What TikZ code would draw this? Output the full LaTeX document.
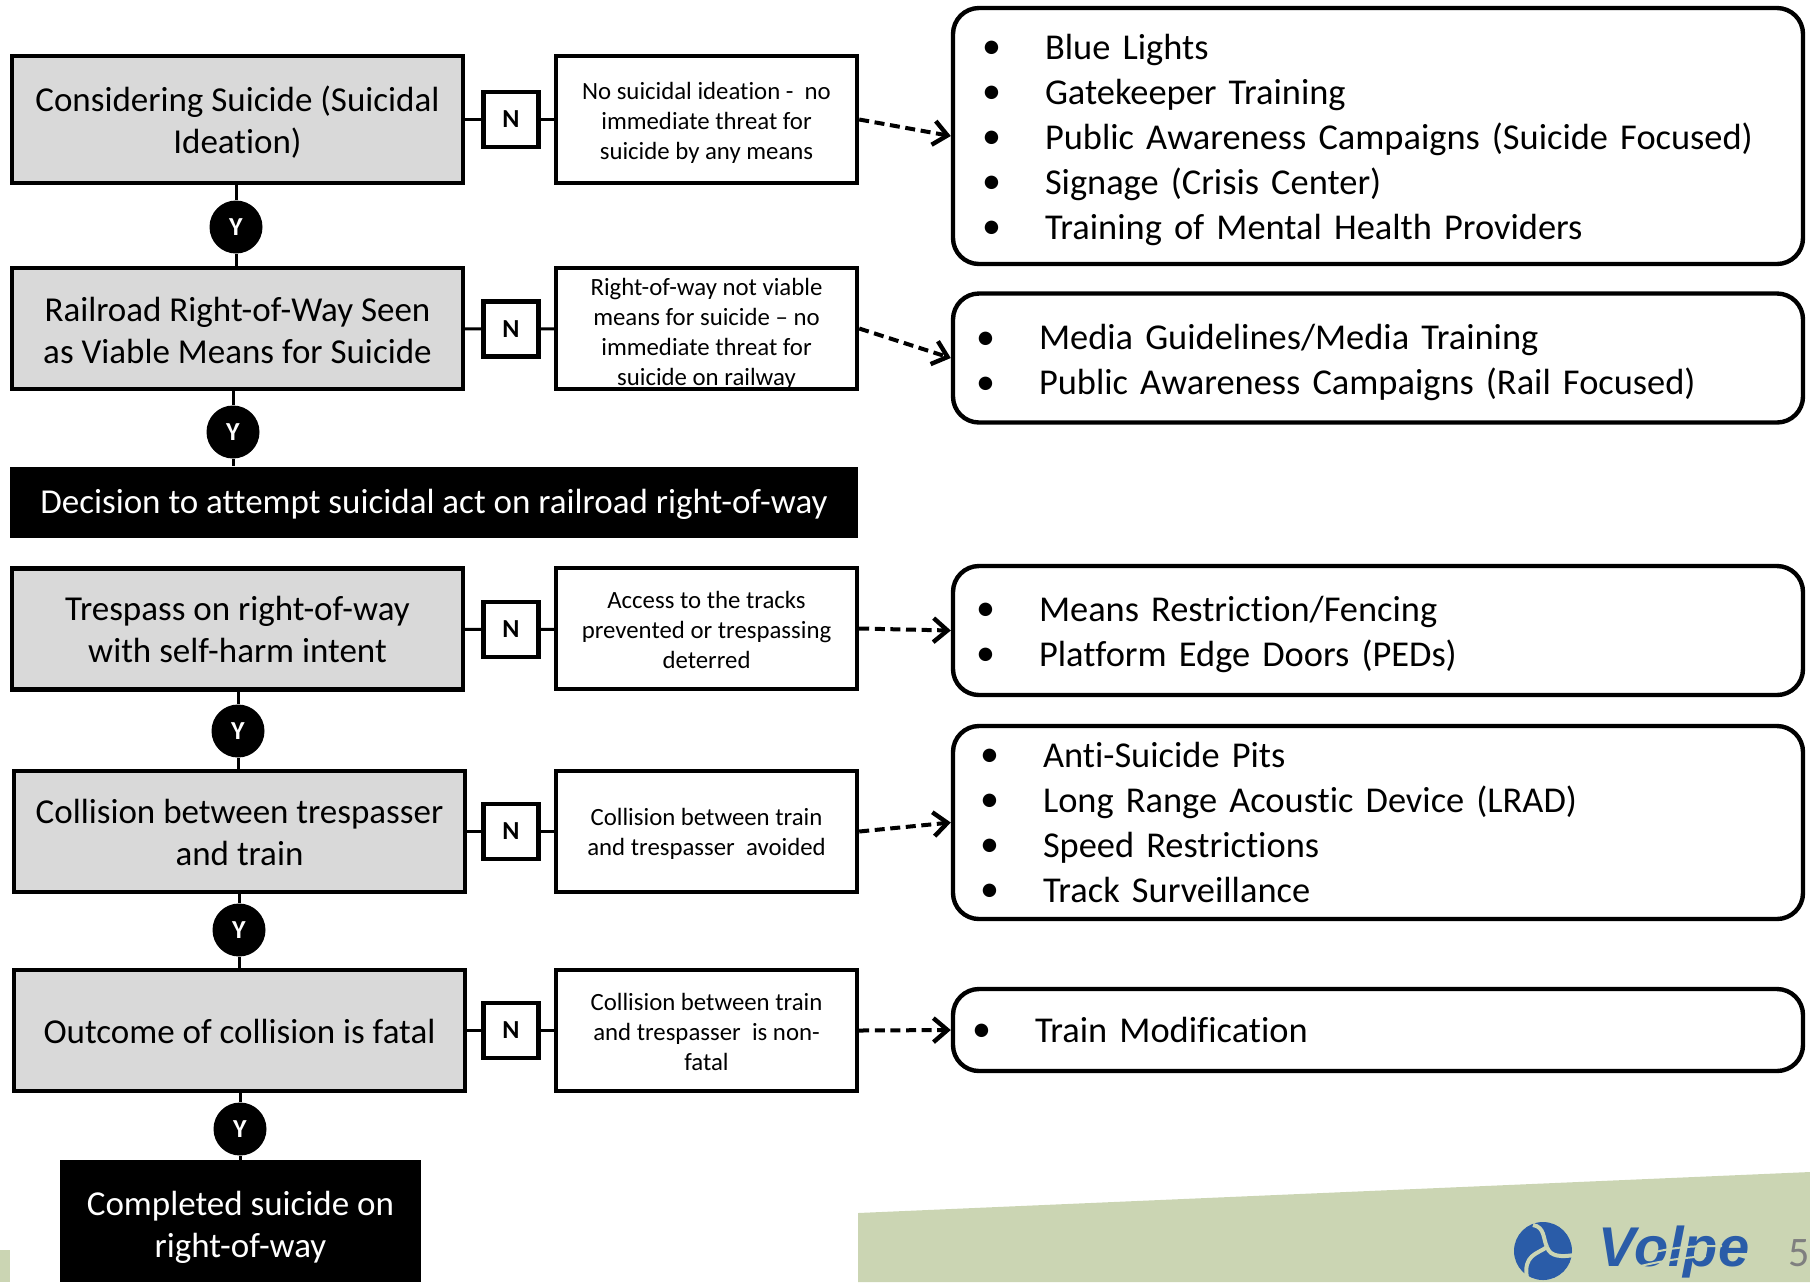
\documentclass[tikz,border=0pt]{standalone}
\usepackage{fontspec}
\setmainfont[Ligatures=NoCommon]{Carlito}
\newfontfamily\logofont{Liberation Sans}
\usetikzlibrary{arrows.meta}
\definecolor{boxgray}{HTML}{D9D9D9}
\definecolor{bandgreen}{HTML}{CBD5B3}
\definecolor{logoblue}{HTML}{2A5CA8}
\definecolor{pagegray}{HTML}{7F7F7F}
\newcommand{\listrow}[1]{\makebox[23pt][l]{\hspace*{-8.5pt}\raisebox{0.3pt}{\fontsize{19}{19}\selectfont\textbullet}}#1\\}
\begin{document}
\begin{tikzpicture}[x=0.5pt,y=-0.5pt]
     \tikzstyle{droptext}=[execute at begin node={\rule{0pt}{#1}}]
     \tikzstyle{stagenode}=[draw,line width=2.2pt,fill=boxgray,inner sep=0pt,minimum width=225.5pt,minimum height=60.5pt,text width=220pt,align=flush center,font=\fontsize{17.5}{21}\selectfont]
     \tikzstyle{blacknode}=[fill=black,text=white,inner sep=0pt,align=flush center,font=\fontsize{17.5}{21}\selectfont]
     \tikzstyle{nnode}=[draw,line width=2.2pt,fill=white,inner sep=0pt,minimum size=27.5pt,font=\fontsize{13}{13}\selectfont\bfseries]
     \tikzstyle{ynode}=[circle,fill=black,text=white,inner sep=0pt,minimum size=26.5pt,font=\fontsize{13}{13}\selectfont\bfseries]
     \tikzstyle{resultnode}=[draw,line width=2.2pt,fill=white,inner sep=0pt,minimum width=150.5pt,minimum height=60.5pt,text width=148pt,align=flush center,font=\fontsize{12.4}{15}\selectfont]
     \tikzstyle{listnode}=[draw,line width=2.2pt,rounded corners=13pt,fill=white,inner ysep=0pt,inner xsep=#1,text width=425pt-2*#1,align=left,font=\fontsize{18.2}{22.5}\selectfont]
     \tikzstyle{link}=[line width=1.5pt]
     \tikzstyle{dashlink}=[line width=2pt,dash pattern=on 5pt off 2.8pt,-{Straight Barb[length=7pt,width=12pt,line width=2.2pt]}]
     \useasboundingbox (0,0) rectangle (1810,1282);
     % bottom band and logo
     \fill[bandgreen] (858,1213) -- (1810,1172) -- (1810,1282) -- (858,1282) -- cycle;
     \fill[bandgreen] (0,1250) rectangle (10,1282);
     \fill[logoblue] (1543,1251) circle (29);
     \draw[bandgreen,line width=2pt] (1533,1225) .. controls (1545,1227) and (1543,1239) .. (1547,1247);
     \draw[bandgreen,line width=2pt] (1547,1247) .. controls (1550,1257) and (1562,1257) .. (1574,1255);
     \draw[bandgreen,line width=2pt] (1547,1247) .. controls (1537,1254) and (1523,1255) .. (1527,1278);
     \node[text=logoblue,inner sep=0pt,font=\fontsize{28}{28}\logofont\bfseries\itshape] (volpe) at (1674,1252) {Volpe};
     \draw[bandgreen,line width=1pt] (1655,1252) .. controls (1680,1246) and (1700,1246) .. (1722,1246);
     \draw[bandgreen,line width=1pt] (1620,1272) .. controls (1650,1262) and (1680,1258) .. (1706,1256);
     \node[text=pagegray,inner sep=0pt,font=\fontsize{21}{21}\selectfont] (pagenum) at (1799,1253) {5};
     % stages
     \node[stagenode,droptext=15.1pt,minimum height=63.5pt] (consider) at (237.5,119.5) {Considering Suicide (Suicidal\\Ideation)};
     \node[stagenode,droptext=14.6pt] (viable) at (237.5,328.5) {Railroad Right-of-Way Seen\\as Viable Means for Suicide};
     \node[blacknode,droptext=14.2pt,text width=420pt,minimum width=424pt,minimum height=35.5pt] (decision) at (434,502) {Decision to attempt suicidal act on railroad right-of-way};
     \node[stagenode] (trespass) at (237.5,629) {Trespass on right-of-way\\with self-harm intent};
     \node[stagenode,droptext=13.5pt] (collision) at (239.5,831.5) {Collision between trespasser\\and train};
     \node[stagenode,droptext=13.5pt] (outcome) at (239.5,1030.5) {Outcome of collision is fatal};
     \node[blacknode,droptext=18.1pt,text width=175pt,minimum width=180.5pt,minimum height=61pt] (completed) at (240.5,1221) {Completed suicide on\\right-of-way};
     % yes circles
     \node[ynode] (yconsider) at (236,227) {Y};
     \node[ynode] (yviable) at (233,432) {Y};
     \node[ynode] (ytrespass) at (238,731) {Y};
     \node[ynode] (ycollision) at (239,930) {Y};
     \node[ynode] (youtcome) at (240,1129) {Y};
     % no boxes
     \node[nnode] (nconsider) at (511,119.5) {N};
     \node[nnode] (nviable) at (511,329) {N};
     \node[nnode] (ntrespass) at (511,629.5) {N};
     \node[nnode] (ncollision) at (511,831.5) {N};
     \node[nnode] (noutcome) at (511,1030.5) {N};
     % results
     \node[resultnode,droptext=12.4pt,minimum height=63.5pt] (rconsider) at (706.5,119.5) {No suicidal ideation -\ \ no\\immediate threat for\\suicide by any means};
     \node[resultnode,droptext=13.5pt] (rviable) at (706.5,328.5) {Right-of-way not viable\\means for suicide -- no\\immediate threat for\\suicide on railway};
     \node[resultnode,droptext=10pt] (rtrespass) at (706.5,628.5) {Access to the tracks\\prevented or trespassing\\deterred};
     \node[resultnode,droptext=11.2pt] (rcollision) at (706.5,831.5) {Collision between train\\and trespasser\ \ avoided};
     \node[resultnode,droptext=10pt] (routcome) at (706.5,1030.5) {Collision between train\\and trespasser\ \ is non-\\fatal};
     % lists
     \node[listnode=23pt,droptext=16.3pt,minimum height=128pt] (lconsider) at (1378,136) {\listrow{Blue Lights}\listrow{Gatekeeper Training}\listrow{Public Awareness Campaigns (Suicide Focused)}\listrow{Signage (Crisis Center)}\listrow{Training of Mental Health Providers}};
     \node[listnode=20pt,droptext=17.4pt,minimum height=64.5pt] (lviable) at (1378,358) {\listrow{Media Guidelines/Media Training}\listrow{Public Awareness Campaigns (Rail Focused)}};
     \node[listnode=20pt,droptext=16.3pt,minimum height=64.5pt] (ltrespass) at (1378,630.5) {\listrow{Means Restriction/Fencing}\listrow{Platform Edge Doors (PEDs)}};
     \node[listnode=22pt,minimum height=96.5pt] (lcollision) at (1378,822.5) {\listrow{Anti-Suicide Pits}\listrow{Long Range Acoustic Device (LRAD)}\listrow{Speed Restrictions}\listrow{Track Surveillance}};
     \node[listnode=18pt,minimum height=41pt] (loutcome) at (1378,1030) {\listrow{Train Modification}};
     % connectors
     \draw[link] (yconsider |- consider.south) -- (yconsider) -- (yconsider |- viable.north);
     \draw[link] (yviable |- viable.south) -- (yviable) -- (yviable |- decision.north);
     \draw[link] (ytrespass |- trespass.south) -- (ytrespass) -- (ytrespass |- collision.north);
     \draw[link] (ycollision |- collision.south) -- (ycollision) -- (ycollision |- outcome.north);
     \draw[link] (youtcome |- outcome.south) -- (youtcome) -- (youtcome |- completed.north);
     \draw[link] (consider) -- (nconsider) -- (rconsider);
     \draw[link] (viable) -- (nviable) -- (rviable);
     \draw[link] (trespass) -- (ntrespass) -- (rtrespass);
     \draw[link] (collision) -- (ncollision) -- (rcollision);
     \draw[link] (outcome) -- (noutcome) -- (routcome);
     \draw[dashlink] (rconsider.east) -- (lconsider.west);
     \draw[dashlink] (rviable.east) -- (lviable.west);
     \draw[dashlink] (rtrespass.east) -- (ltrespass.west);
     \draw[dashlink] (rcollision.east) -- (lcollision.west);
     \draw[dashlink] (routcome.east) -- (loutcome.west);
    \end{tikzpicture}
\end{document}
